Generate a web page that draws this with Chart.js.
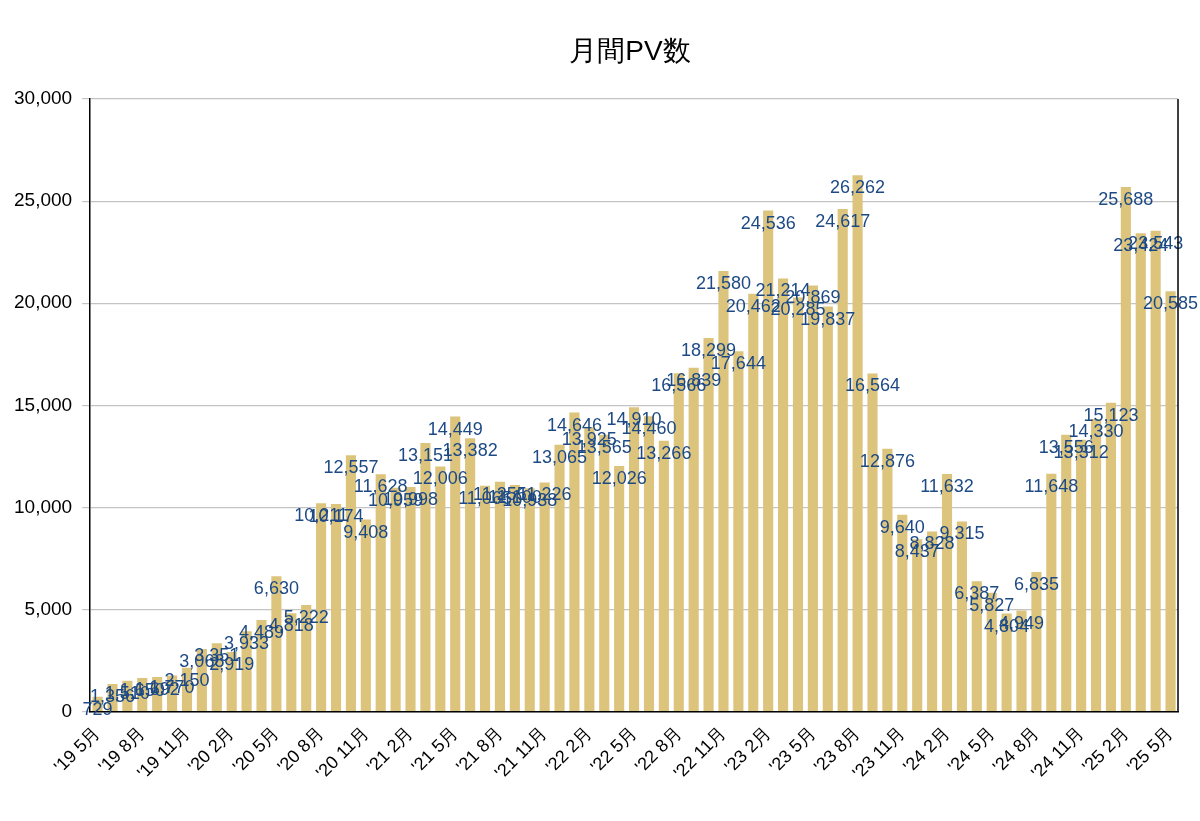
<!DOCTYPE html>
<html>
<head>
<meta charset="utf-8">
<script src="https://cdn.jsdelivr.net/npm/chart.js@4/dist/chart.umd.min.js"></script>
<style>
  html, body { margin: 0; padding: 0; background: #fff; }
  #wrap { width: 1200px; height: 821px; }
</style>
</head>
<body>
<div id="wrap"><canvas id="pvChart" width="1200" height="821"></canvas></div>
<script>
// months from '19 5月 to '25 5月
const startYear = 2019;
const startMonth = 5;
const monthCount = 73;
const months = [];
for (let i = 0; i < monthCount; i++) {
  const m = (startMonth - 1 + i) % 12 + 1;
  const y = startYear + Math.floor((startMonth - 1 + i) / 12);
  months.push("'" + String(y).slice(2) + " " + m + "月");
}

const pageViews = [
  729, 1356, 1510, 1650, 1692, 1770, 2150, 3068, 3351, 2919, 3933, 4489,
  6630, 4818, 5222, 10211, 10174, 12557, 9408, 11628, 10959, 10998, 13151, 12006,
  14449, 13382, 11065, 11255, 11100, 10938, 11226, 13065, 14646, 13925, 13565, 12026,
  14910, 14460, 13266, 16566, 16839, 18299, 21580, 17644, 20462, 24536, 21214, 20285,
  20869, 19837, 24617, 26262, 16564, 12876, 9640, 8437, 8828, 11632, 9315, 6387,
  5827, 4804, 4949, 6835, 11648, 13556, 13312, 14330, 15123, 25688, 23424, 23543,
  20585
];

const yTicks = [0, 5000, 10000, 15000, 20000, 25000, 30000];

const fontFamily = "'Liberation Sans', Arial, sans-serif";

// value labels + title + right border
const decorations = {
  id: "decorations",
  afterDatasetsDraw(chart) {
    const ctx = chart.ctx;
    const meta = chart.getDatasetMeta(0);
    ctx.save();
    ctx.fillStyle = "#1d4a85";
    ctx.font = "18px " + fontFamily;
    ctx.textAlign = "center";
    ctx.textBaseline = "middle";
    meta.data.forEach((bar, i) => {
      ctx.fillText(pageViews[i].toLocaleString("en-US"), bar.x, bar.y + 13);
    });
    const area = chart.chartArea;
    ctx.strokeStyle = "#000";
    ctx.lineWidth = 1.5;
    ctx.beginPath();
    ctx.moveTo(area.right, area.top);
    ctx.lineTo(area.right, area.bottom);
    ctx.stroke();
    ctx.fillStyle = "#000";
    ctx.font = "28px " + fontFamily;
    ctx.fillText("月間PV数", 630, 52);
    ctx.restore();
  }
};

new Chart(document.getElementById("pvChart"), {
  type: "bar",
  data: {
    labels: months,
    datasets: [{
      data: pageViews,
      backgroundColor: "#dcc47d",
      barPercentage: 0.68,
      categoryPercentage: 1.0
    }]
  },
  options: {
    responsive: false,
    animation: false,
    layout: { padding: { top: 99, right: 22, left: 4, bottom: 34 } },
    plugins: {
      legend: { display: false },
      tooltip: { enabled: false },
      title: { display: false }
    },
    scales: {
      x: {
        grid: { display: false },
        border: { color: "#000", width: 1.5 },
        ticks: {
          autoSkip: false,
          maxRotation: 45,
          minRotation: 45,
          color: "#000",
          font: { size: 18, family: fontFamily },
          callback: (v, i) => (i % 3 === 0 ? months[i] : "")
        }
      },
      y: {
        min: 0,
        max: 30000,
        afterBuildTicks: axis => { axis.ticks = yTicks.map(v => ({ value: v })); },
        grid: { color: "#c4c4c4", lineWidth: 1.2 },
        border: { color: "#000", width: 1.5 },
        ticks: {
          color: "#000",
          padding: 10,
          font: { size: 19, family: fontFamily },
          callback: v => v.toLocaleString("en-US")
        }
      }
    }
  },
  plugins: [decorations]
});
</script>
</body>
</html>
